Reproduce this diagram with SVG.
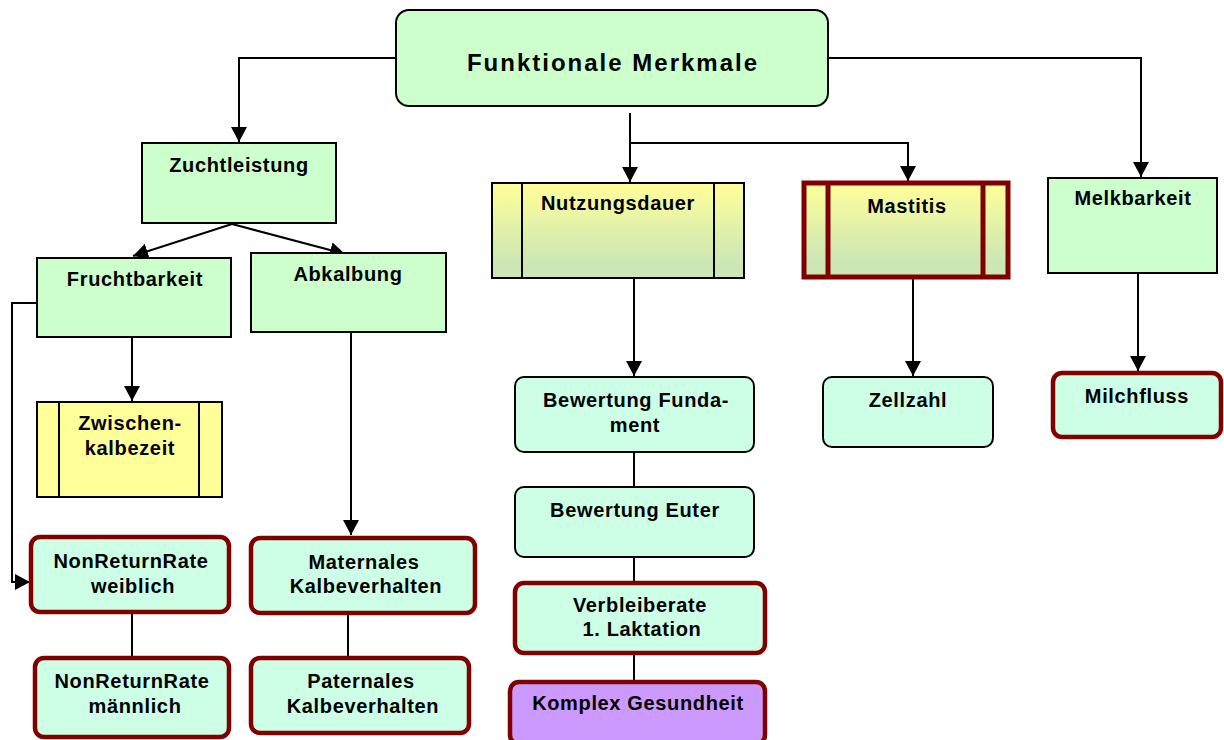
<svg xmlns="http://www.w3.org/2000/svg" width="1224" height="740" viewBox="0 0 1224 740">
<defs>
<style>
.t{font-family:"Liberation Sans",Arial,sans-serif;font-weight:bold;font-size:20px;letter-spacing:0.65px;fill:#000;text-anchor:middle}
.title{font-size:24px;letter-spacing:2px}
.g{fill:#ccffcc;stroke:#000;stroke-width:2}
.m{fill:#ccffe6;stroke:#000;stroke-width:2}
.mr{fill:#ccffe6;stroke:#800000;stroke-width:4.5}
.p{fill:#cc99ff;stroke:#800000;stroke-width:4.5}
.y{fill:#ffff99;stroke:#000;stroke-width:2}
.yg{fill:url(#grad);stroke:#000;stroke-width:2}
.ygr{fill:url(#grad);stroke:#800000;stroke-width:5}
.in{stroke:#000;stroke-width:2;fill:none}
.inr{stroke:#800000;stroke-width:5;fill:none}
.c{fill:none;stroke:#000;stroke-width:2}
</style>
<linearGradient id="grad" x1="0" y1="0" x2="0" y2="1">
<stop offset="0" stop-color="#ffff99"/>
<stop offset="0.85" stop-color="#cce6b6"/>
<stop offset="1" stop-color="#cce6b6"/>
</linearGradient>
<marker id="arr" markerUnits="userSpaceOnUse" markerWidth="16" markerHeight="16" refX="15" refY="8" orient="auto">
<path d="M0,0 L15,8 L0,16 z" fill="#000"/>
</marker>
</defs>
<rect width="1224" height="740" fill="#fff"/>
<g id="connectors">
<path class="c" d="M396,58 H239 V142" marker-end="url(#arr)"/>
<path class="c" d="M828,58 H1141 V177" marker-end="url(#arr)"/>
<path class="c" d="M630,113 V182" marker-end="url(#arr)"/>
<path class="c" d="M630,143 H908 V181" marker-end="url(#arr)"/>
<path class="c" d="M232,224 L133,256" marker-end="url(#arr)"/>
<path class="c" d="M232,224 L345,254" marker-end="url(#arr)"/>
<path class="c" d="M37,303 H12 V582 H30" marker-end="url(#arr)"/>
<path class="c" d="M132,337 V401" marker-end="url(#arr)"/>
<path class="c" d="M351,332 V535" marker-end="url(#arr)"/>
<path class="c" d="M132,612 V658"/>
<path class="c" d="M348,613 V658"/>
<path class="c" d="M634,278 V376" marker-end="url(#arr)"/>
<path class="c" d="M634,452 V487"/>
<path class="c" d="M634,557 V582"/>
<path class="c" d="M634,653 V681"/>
<path class="c" d="M913,278 V376" marker-end="url(#arr)"/>
<path class="c" d="M1138,273 V371" marker-end="url(#arr)"/>
</g>
<g id="funktionale-merkmale">
<rect class="g" x="396" y="10" width="432" height="96" rx="13"/>
<text class="t title" x="613" y="71">Funktionale Merkmale</text>
</g>
<g id="zuchtleistung">
<rect class="g" x="142" y="143" width="194" height="80"/>
<text class="t" x="239" y="172">Zuchtleistung</text>
</g>
<g id="fruchtbarkeit">
<rect class="g" x="37" y="258" width="194" height="79"/>
<text class="t" x="135" y="286">Fruchtbarkeit</text>
</g>
<g id="abkalbung">
<rect class="g" x="251" y="253" width="195" height="79"/>
<text class="t" x="348" y="281">Abkalbung</text>
</g>
<g id="zwischenkalbezeit">
<rect class="y" x="37" y="402" width="185" height="95"/>
<line class="in" x1="59" y1="402" x2="59" y2="497"/>
<line class="in" x1="199" y1="402" x2="199" y2="497"/>
<text class="t" x="130" y="430">Zwischen-</text>
<text class="t" x="130" y="455">kalbezeit</text>
</g>
<g id="nrr-weiblich">
<rect class="mr" x="31" y="537" width="198" height="75" rx="9"/>
<text class="t" x="131" y="568">NonReturnRate</text>
<text class="t" x="133" y="593">weiblich</text>
</g>
<g id="nrr-maennlich">
<rect class="mr" x="35" y="658" width="194" height="79" rx="9"/>
<text class="t" x="132" y="688">NonReturnRate</text>
<text class="t" x="135" y="713">männlich</text>
</g>
<g id="maternales">
<rect class="mr" x="251" y="538" width="224" height="75" rx="9"/>
<text class="t" x="364" y="569">Maternales</text>
<text class="t" x="366" y="593">Kalbeverhalten</text>
</g>
<g id="paternales">
<rect class="mr" x="251" y="658" width="218" height="75" rx="9"/>
<text class="t" x="361" y="688">Paternales</text>
<text class="t" x="363" y="713">Kalbeverhalten</text>
</g>
<g id="nutzungsdauer">
<rect class="yg" x="492" y="183" width="252" height="95"/>
<line class="in" x1="522" y1="183" x2="522" y2="278"/>
<line class="in" x1="714" y1="183" x2="714" y2="278"/>
<text class="t" x="618" y="210">Nutzungsdauer</text>
</g>
<g id="mastitis">
<rect class="ygr" x="804" y="183" width="204" height="94"/>
<line class="inr" x1="828" y1="183" x2="828" y2="277"/>
<line class="inr" x1="983" y1="183" x2="983" y2="277"/>
<text class="t" x="907" y="213">Mastitis</text>
</g>
<g id="melkbarkeit">
<rect class="g" x="1048" y="178" width="169" height="95"/>
<text class="t" x="1133" y="205">Melkbarkeit</text>
</g>
<g id="bewertung-fundament">
<rect class="m" x="515" y="377" width="239" height="75" rx="9"/>
<text class="t" x="636" y="407">Bewertung Funda-</text>
<text class="t" x="635" y="432">ment</text>
</g>
<g id="bewertung-euter">
<rect class="m" x="515" y="487" width="239" height="70" rx="9"/>
<text class="t" x="635" y="517">Bewertung Euter</text>
</g>
<g id="verbleiberate">
<rect class="mr" x="515" y="583" width="250" height="70" rx="9"/>
<text class="t" x="640" y="612">Verbleiberate</text>
<text class="t" x="642" y="636">1. Laktation</text>
</g>
<g id="komplex-gesundheit">
<rect class="p" x="510" y="682" width="255" height="62" rx="9"/>
<text class="t" x="638" y="710">Komplex Gesundheit</text>
</g>
<g id="zellzahl">
<rect class="m" x="823" y="377" width="170" height="70" rx="9"/>
<text class="t" x="908" y="407">Zellzahl</text>
</g>
<g id="milchfluss">
<rect class="mr" x="1053" y="373" width="168" height="64" rx="9"/>
<text class="t" x="1137" y="403">Milchfluss</text>
</g>
</svg>
